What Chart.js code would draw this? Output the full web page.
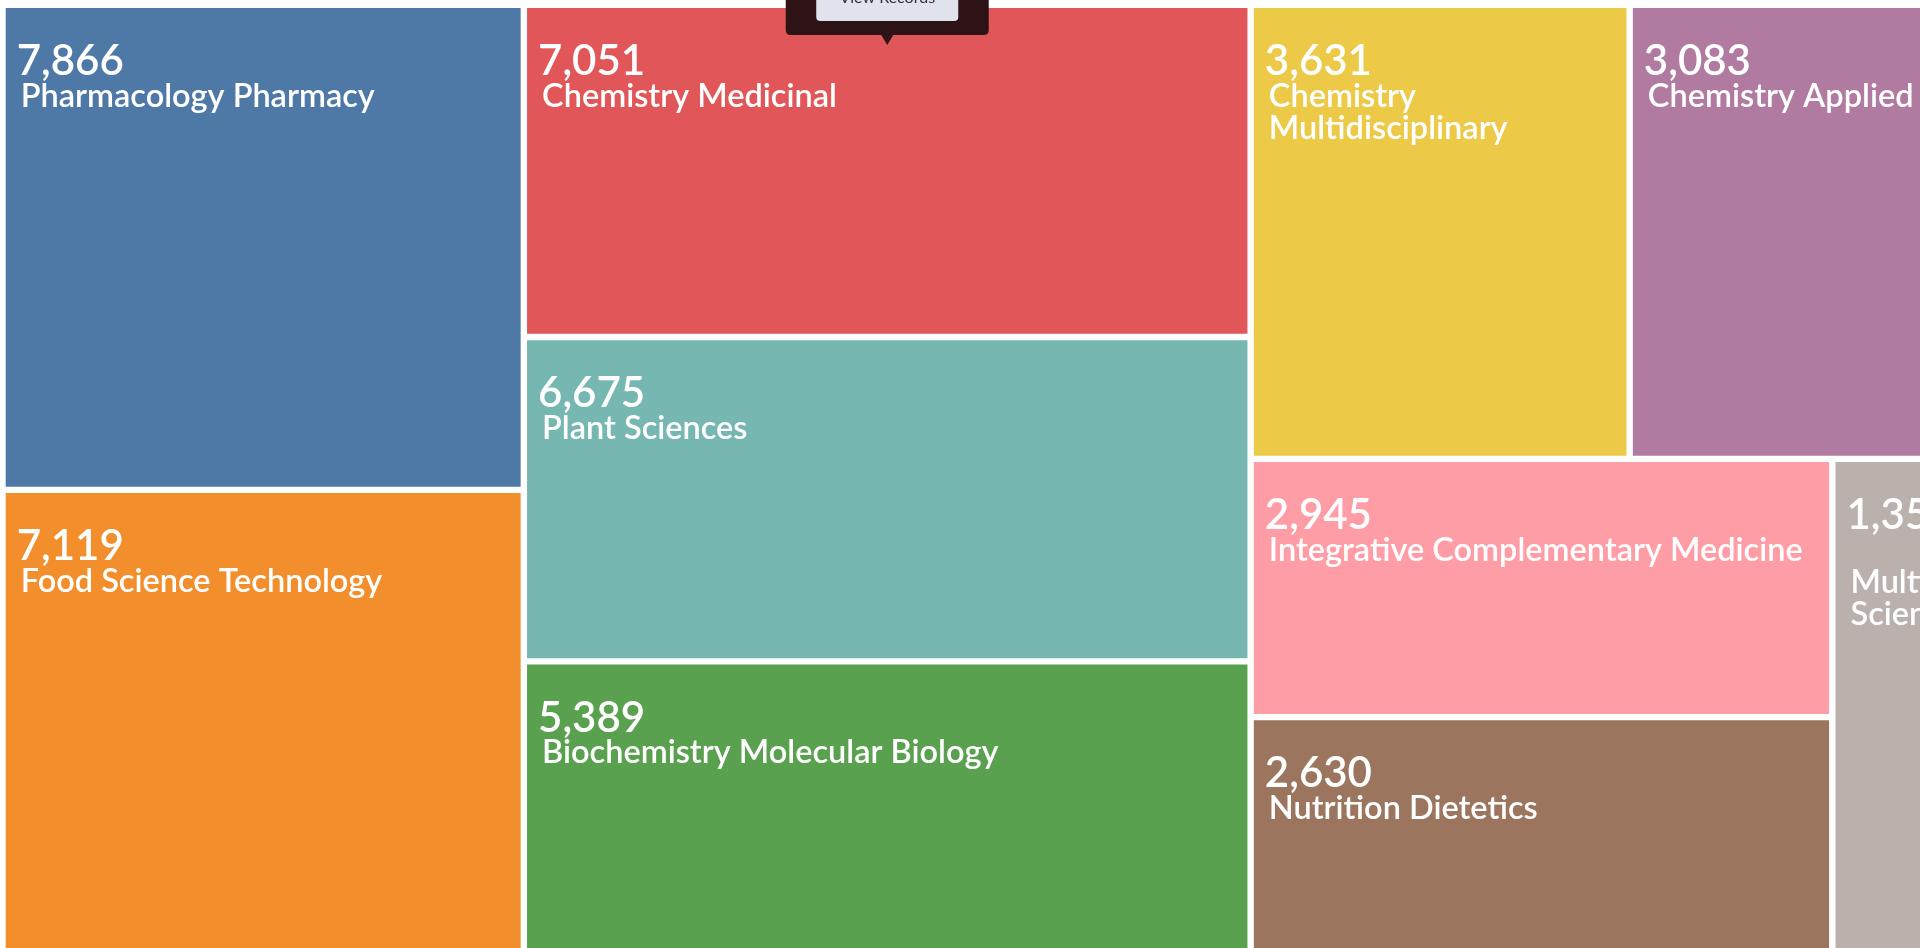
<!DOCTYPE html>
<html>
<head>
<meta charset="utf-8">
<title>Treemap</title>
<script src="https://cdn.jsdelivr.net/npm/chart.js@4.4.1/dist/chart.umd.min.js"></script>
<style>
  html, body { margin: 0; padding: 0; background: #ffffff; overflow: hidden; width: 1920px; height: 948px; }
  #wrap { position: absolute; left: 0; top: 0; width: 1971px; height: 955px; }
</style>
</head>
<body>
<div id="wrap"><canvas id="chart"></canvas></div>
<script>
// ---- data ----
const categories = [
  'Pharmacology Pharmacy',
  'Food Science Technology',
  'Chemistry Medicinal',
  'Plant Sciences',
  'Biochemistry Molecular Biology',
  'Chemistry Multidisciplinary',
  'Chemistry Applied',
  'Integrative Complementary Medicine',
  'Nutrition Dietetics',
  'Multidisciplinary Sciences'
];
const recordCounts = [7866, 7119, 7051, 6675, 5389, 3631, 3083, 2945, 2630, 1352];
const cellColors = ['#4E79A7', '#F28E2B', '#E15759', '#76B7B2', '#59A14F',
                    '#EDC948', '#B07AA1', '#FF9DA7', '#9C755F', '#BAB0AC'];
const hoveredCategory = 'Chemistry Medicinal';
const hoverText = 'View Records';

// cell size grows with log(records / sizeFloor)
const sizeFloor = 700;
const GOLDEN = (1 + Math.sqrt(5)) / 2;
const CELL_GAP = 6.4;

// squarified treemap (d3-style) over a pixel box
function squarify(weights, x0, y0, x1, y1, ratio) {
  const n = weights.length;
  const order = weights.map((w, i) => i).sort((a, b) => weights[b] - weights[a]);
  const rects = new Array(n);
  let value = order.reduce((s, i) => s + weights[i], 0);
  let i0 = 0, i1 = 0;
  while (i0 < n) {
    const dx = x1 - x0, dy = y1 - y0;
    let sumValue = weights[order[i1++]];
    let minValue = sumValue, maxValue = sumValue;
    const alpha = Math.max(dy / dx, dx / dy) / (value * ratio);
    let beta = sumValue * sumValue * alpha;
    let minRatio = Math.max(maxValue / beta, beta / minValue);
    for (; i1 < n; ++i1) {
      const nv = weights[order[i1]];
      sumValue += nv;
      if (nv < minValue) minValue = nv;
      if (nv > maxValue) maxValue = nv;
      beta = sumValue * sumValue * alpha;
      const newRatio = Math.max(maxValue / beta, beta / minValue);
      if (newRatio > minRatio) { sumValue -= nv; break; }
      minRatio = newRatio;
    }
    const row = order.slice(i0, i1);
    if (dx < dy) {
      const yEnd = y0 + dy * sumValue / value;
      let x = x0;
      row.forEach(k => { const w = dx * weights[k] / sumValue; rects[k] = {x0: x, y0: y0, x1: x + w, y1: yEnd}; x += w; });
      y0 = yEnd;
    } else {
      const xEnd = x0 + dx * sumValue / value;
      let y = y0;
      row.forEach(k => { const h = dy * weights[k] / sumValue; rects[k] = {x0: x0, y0: y, x1: xEnd, y1: y + h}; y += h; });
      x0 = xEnd;
    }
    value -= sumValue;
    i0 = i1;
  }
  return rects;
}

class TreemapLiteController extends Chart.DatasetController {
  update(mode) {
    const meta = this._cachedMeta;
    this.updateElements(meta.data, 0, meta.data.length, mode);
  }
  updateElements(elements, start, count, mode) {
    const meta = this._cachedMeta;
    const xs = meta.xScale, ys = meta.yScale;
    const values = this.getDataset().data;
    const weights = values.map(v => Math.log(v / sizeFloor));
    const bx0 = xs.getPixelForValue(xs.min), bx1 = xs.getPixelForValue(xs.max);
    const by0 = ys.getPixelForValue(ys.min), by1 = ys.getPixelForValue(ys.max);
    const rects = squarify(weights, Math.min(bx0, bx1), Math.min(by0, by1), Math.max(bx0, bx1), Math.max(by0, by1), GOLDEN);
    const g = CELL_GAP / 2;
    for (let i = start; i < start + count; i++) {
      const r = rects[i];
      const l = r.x0 + g, rr = r.x1 - g, t = r.y0 + g, b = r.y1 - g;
      const props = {
        x: (l + rr) / 2, y: t, base: b,
        width: rr - l, height: b - t,
        horizontal: false,
        inflateAmount: 0,
        borderSkipped: {},
        enableBorderRadius: false,
        options: this.resolveDataElementOptions(i, mode)
      };
      this.updateElement(elements[i], i, props, mode);
    }
  }
}
TreemapLiteController.id = 'treemapLite';
TreemapLiteController.defaults = { datasetElementType: false, dataElementType: 'bar' };
Chart.register(TreemapLiteController);

function wrapWords(ctx, text, width) {
  const words = text.split(/\s+/).reverse();
  const lines = [];
  let line = [], current = '', word;
  while ((word = words.pop()) !== undefined) {
    line.push(word);
    current = line.join(' ');
    if (ctx.measureText(current).width > width) {
      line.pop();
      lines.push(line.join(' '));
      line = [word];
      current = word;
    }
  }
  lines.push(current);
  return lines;
}

const FONT_FAMILY = "Lato, 'Open Sans', 'Noto Sans', sans-serif";
const cellLabels = {
  id: 'cellLabels',
  afterDatasetsDraw(chart) {
    const meta = chart.getDatasetMeta(0);
    const ctx = chart.ctx;
    const labels = chart.data.labels, data = chart.data.datasets[0].data;
    meta.data.forEach((el, i) => {
      const p = el.getProps(['x', 'y', 'base', 'width'], true);
      const left = p.x - p.width / 2, top = Math.min(p.y, p.base), bottom = Math.max(p.y, p.base);
      ctx.save();
      ctx.beginPath();
      ctx.rect(left, top, p.width, bottom - top);
      ctx.clip();
      ctx.fillStyle = '#ffffff';
      ctx.textAlign = 'left';
      ctx.textBaseline = 'alphabetic';
      ctx.font = '600 42px ' + FONT_FAMILY;
      ctx.fillText(Number(data[i]).toLocaleString('en-US'), left + 11, top + 67);
      ctx.font = '600 32.5px ' + FONT_FAMILY;
      const lines = wrapWords(ctx, labels[i], p.width - 32);
      lines.forEach((ln, j) => ctx.fillText(ln, left + 15, top + 98.5 + j * 32));
      ctx.restore();
    });
  }
};

function roundRect(ctx, x, y, w, h, r) {
  ctx.beginPath();
  ctx.moveTo(x + r, y);
  ctx.lineTo(x + w - r, y);
  ctx.quadraticCurveTo(x + w, y, x + w, y + r);
  ctx.lineTo(x + w, y + h - r);
  ctx.quadraticCurveTo(x + w, y + h, x + w - r, y + h);
  ctx.lineTo(x + r, y + h);
  ctx.quadraticCurveTo(x, y + h, x, y + h - r);
  ctx.lineTo(x, y + r);
  ctx.quadraticCurveTo(x, y, x + r, y);
  ctx.closePath();
}

const hoverCard = {
  id: 'hoverCard',
  afterDraw(chart) {
    const idx = chart.data.labels.indexOf(hoveredCategory);
    if (idx < 0) return;
    const el = chart.getDatasetMeta(0).data[idx];
    const p = el.getProps(['x', 'y', 'base'], true);
    const cx = p.x, top = Math.min(p.y, p.base);
    const ctx = chart.ctx;
    const tipY = top + 37, boxBottom = tipY - 10;
    ctx.save();
    ctx.fillStyle = '#2d1315';
    roundRect(ctx, cx - 101.5, boxBottom - 90, 203, 90, 5);
    ctx.fill();
    ctx.beginPath();
    ctx.moveTo(cx - 6, boxBottom);
    ctx.lineTo(cx + 6, boxBottom);
    ctx.lineTo(cx, tipY);
    ctx.closePath();
    ctx.fill();
    ctx.fillStyle = '#e1e3ec';
    roundRect(ctx, cx - 71, boxBottom - 60, 142, 46, 4);
    ctx.fill();
    ctx.fillStyle = '#333333';
    ctx.font = '400 16px ' + FONT_FAMILY;
    ctx.textAlign = 'center';
    ctx.textBaseline = 'alphabetic';
    ctx.fillText(hoverText, cx, boxBottom - 32);
    ctx.restore();
  }
};

new Chart(document.getElementById('chart'), {
  type: 'treemapLite',
  data: {
    labels: categories,
    datasets: [{
      data: recordCounts,
      backgroundColor: cellColors,
      borderWidth: 0,
      borderRadius: 0
    }]
  },
  options: {
    responsive: true,
    maintainAspectRatio: false,
    animation: false,
    events: [],
    layout: { padding: { left: 2.5, top: 4.8, right: 0, bottom: 0 } },
    scales: {
      x: { type: 'linear', min: 0, max: 1, display: false },
      y: { type: 'linear', min: 0, max: 1, reverse: true, display: false }
    },
    plugins: { legend: { display: false }, tooltip: { enabled: false } }
  },
  plugins: [cellLabels, hoverCard]
});
</script>
</body>
</html>
